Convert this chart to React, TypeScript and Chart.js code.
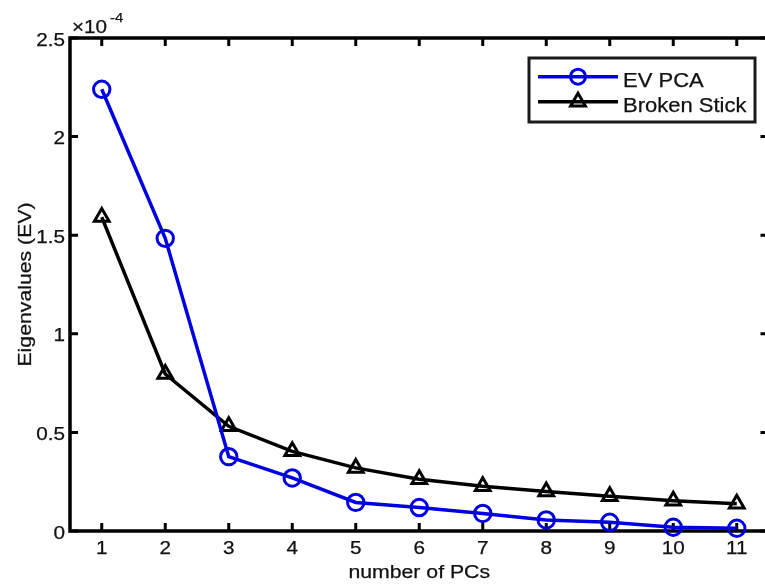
import React, { useEffect, useRef } from 'react';
import { Chart, registerables } from 'chart.js';

Chart.register(...registerables);

// ---- data (values in units of 1e-4) ----
const categories = [1, 2, 3, 4, 5, 6, 7, 8, 9, 10, 11];
const evPCA = [2.24, 1.484, 0.377, 0.269, 0.145, 0.119, 0.089, 0.056, 0.044, 0.019, 0.014];
const brokenStick = [1.592, 0.796, 0.531, 0.404, 0.32, 0.262, 0.227, 0.2, 0.176, 0.154, 0.138];
const yTickValues = [0, 0.5, 1, 1.5, 2, 2.5];
const yTickLabels = ['0', '0.5', '1', '1.5', '2', '2.5'];
const xTickLabels = categories.map((c) => String(c));
const seriesNames = ['EV PCA', 'Broken Stick'];
const seriesColors = ['#0000e0', '#000000'];
const seriesMarkers = ['circle', 'triangle'];
const xTitle = 'number of PCs';
const yTitle = 'Eigenvalues (EV)';
const yExponentBase = '\u00d710';
const yExponent = '-4';

const FONT = '"Liberation Sans", Arial, Helvetica, sans-serif';
const TEXT_COLOR = '#111111';

function drawText(
  ctx: CanvasRenderingContext2D,
  text: string,
  x: number,
  y: number,
  size: number,
  align: CanvasTextAlign,
  sx: number,
  rotate = false
) {
  ctx.save();
  ctx.translate(x, y);
  if (rotate) ctx.rotate(-Math.PI / 2);
  ctx.scale(sx, 1);
  ctx.font = `${size}px ${FONT}`;
  ctx.fillStyle = TEXT_COLOR;
  ctx.strokeStyle = TEXT_COLOR;
  ctx.lineWidth = 0.25;
  ctx.textAlign = align;
  ctx.textBaseline = 'alphabetic';
  ctx.fillText(text, 0, 0);
  ctx.strokeText(text, 0, 0);
  ctx.restore();
}

function drawMarker(ctx: CanvasRenderingContext2D, style: string, x: number, y: number, r: number, color: string) {
  ctx.save();
  ctx.strokeStyle = color;
  ctx.lineWidth = 3;
  ctx.beginPath();
  if (style === 'circle') {
    ctx.arc(x, y, r, 0, Math.PI * 2);
  } else {
    let rad = 0;
    ctx.moveTo(x + Math.sin(rad) * r, y - Math.cos(rad) * r);
    rad += (2 * Math.PI) / 3;
    ctx.lineTo(x + Math.sin(rad) * r, y - Math.cos(rad) * r);
    rad += (2 * Math.PI) / 3;
    ctx.lineTo(x + Math.sin(rad) * r, y - Math.cos(rad) * r);
    ctx.closePath();
  }
  ctx.stroke();
  ctx.restore();
}

const matlabAxes = {
  id: 'matlabAxes',
  beforeDatasetsDraw(chart: any) {
    const { ctx, chartArea } = chart;
    const { left, right, top, bottom } = chartArea;
    const xs = chart.scales.x;
    const ys = chart.scales.y;
    const tl = 8;
    ctx.save();
    ctx.strokeStyle = '#000';
    ctx.lineWidth = 3.5;
    ctx.strokeRect(left, top, right - left, bottom - top);
    ctx.lineWidth = 3;
    ctx.beginPath();
    categories.forEach((v) => {
      const px = xs.getPixelForValue(v);
      ctx.moveTo(px, bottom);
      ctx.lineTo(px, bottom - tl);
      ctx.moveTo(px, top);
      ctx.lineTo(px, top + tl);
    });
    yTickValues.forEach((v) => {
      const py = ys.getPixelForValue(v);
      ctx.moveTo(left, py);
      ctx.lineTo(left + tl, py);
      ctx.moveTo(right, py);
      ctx.lineTo(right - tl, py);
    });
    ctx.stroke();
    ctx.restore();

    // tick labels
    categories.forEach((v, i) => {
      const px = xs.getPixelForValue(v);
      drawText(ctx, xTickLabels[i], px, bottom + 23, 18, 'center', 1.15);
    });
    yTickValues.forEach((v, i) => {
      const py = ys.getPixelForValue(v);
      drawText(ctx, yTickLabels[i], left - 5, py + 7.5, 18, 'right', 1.15);
    });

    // exponent
    drawText(ctx, yExponentBase, left + 2, top - 5, 18, 'left', 1.15);
    drawText(ctx, yExponent, left + 40, top - 16, 13, 'left', 1.15);

    // axis titles
    drawText(ctx, xTitle, (left + right) / 2, bottom + 47, 18, 'center', 1.18);
    drawText(ctx, yTitle, 30.5, (top + bottom) / 2, 18, 'center', 1.18, true);
  },
  afterDatasetsDraw(chart: any) {
    const { ctx } = chart;
    const bx = 529, by = 58, bw = 226, bh = 64;
    ctx.save();
    ctx.fillStyle = '#ffffff';
    ctx.fillRect(bx, by, bw, bh);
    ctx.strokeStyle = '#1a1a1a';
    ctx.lineWidth = 3;
    ctx.strokeRect(bx, by, bw, bh);
    ctx.restore();
    const rows = [76.7, 101.7];
    seriesNames.forEach((name, i) => {
      const y = rows[i];
      ctx.save();
      ctx.strokeStyle = seriesColors[i];
      ctx.lineWidth = 3.5;
      ctx.beginPath();
      ctx.moveTo(538, y);
      ctx.lineTo(618, y);
      ctx.stroke();
      ctx.restore();
      drawMarker(ctx, seriesMarkers[i], 578, y, seriesMarkers[i] === 'circle' ? 7.5 : 8.5, seriesColors[i]);
      drawText(ctx, name, 623, y + 10.3, 20, 'left', 1.1);
    });
  },
};

export default function App() {
  const canvasRef = useRef<HTMLCanvasElement | null>(null);

  useEffect(() => {
    if (!canvasRef.current) return;
    const makeDs = (i: number, values: number[]) => ({
      label: seriesNames[i],
      data: categories.map((x, k) => ({ x, y: values[k] })),
      borderColor: seriesColors[i],
      backgroundColor: 'rgba(0,0,0,0)',
      borderWidth: 3.5,
      pointStyle: seriesMarkers[i],
      pointRadius: seriesMarkers[i] === 'circle' ? 8.2 : 8.5,
      pointBorderWidth: 3,
      pointBorderColor: seriesColors[i],
      pointBackgroundColor: 'rgba(0,0,0,0)',
      tension: 0,
      clip: false as any,
      fill: false,
    });
    const chart = new Chart(canvasRef.current, {
      type: 'line',
      data: {
        datasets: [makeDs(0, evPCA), makeDs(1, brokenStick)],
      },
      options: {
        responsive: false,
        animation: false,
        events: [],
        layout: { padding: { top: 38, right: 8, left: 0, bottom: 0 } },
        plugins: { legend: { display: false }, tooltip: { enabled: false } },
        scales: {
          x: {
            type: 'linear',
            min: 0.5,
            max: 11.5,
            afterBuildTicks: (s: any) => {
              s.ticks = categories.map((v) => ({ value: v }));
            },
            afterFit: (s: any) => {
              s.height = 53;
            },
            ticks: { display: false },
            grid: { display: false },
            border: { display: false },
          },
          y: {
            type: 'linear',
            min: 0,
            max: 2.5,
            afterBuildTicks: (s: any) => {
              s.ticks = yTickValues.map((v) => ({ value: v }));
            },
            afterFit: (s: any) => {
              s.width = 70;
            },
            ticks: { display: false },
            grid: { display: false },
            border: { display: false },
          },
        },
      },
      plugins: [matlabAxes],
    });
    return () => chart.destroy();
  }, []);

  return (
    <div
      style={{
        position: 'fixed',
        left: 0,
        top: 0,
        width: 765,
        height: 584,
        overflow: 'hidden',
        background: '#ffffff',
      }}
    >
      <canvas ref={canvasRef} width={780} height={584} style={{ display: 'block', width: 780, height: 584 }} />
    </div>
  );
}
